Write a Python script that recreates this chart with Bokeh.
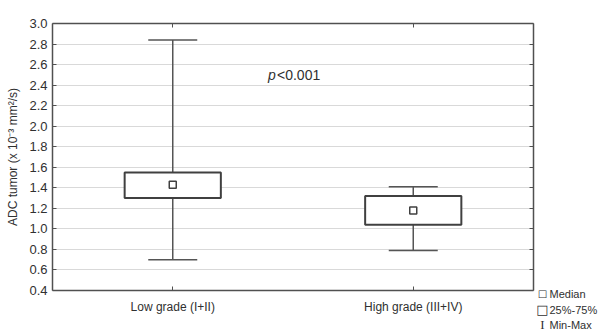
from bokeh.plotting import figure
from bokeh.layouts import row, column
from bokeh.models import (ColumnDataSource, FixedTicker, PrintfTickFormatter, LinearAxis,
                          CategoricalAxis, Whisker, TeeHead, Label, Range1d, Plot, Spacer)
from bokeh.embed import file_html
from bokeh.resources import INLINE

categories = ["Low grade (I+II)", "High grade (III+IV)"]
medians = [1.43, 1.18]
q1 = [1.30, 1.04]
q3 = [1.55, 1.32]
mins = [0.70, 0.79]
maxs = [2.84, 1.41]
y_ticks = [0.4, 0.6, 0.8, 1.0, 1.2, 1.4, 1.6, 1.8, 2.0, 2.2, 2.4, 2.6, 2.8, 3.0]
p_text = ["p", "<0.001"]
legend_labels = ["Median", "25%-75%", "Min-Max"]

FONT = "Liberation Sans"
AX = "#505050"
TXT = "#303030"
MAIN_W = 536
LEG_W = 609 - MAIN_W
LEG_TOP = 285

src = ColumnDataSource(dict(cat=categories, med=medians, q1=q1, q3=q3, lo=mins, hi=maxs))

p = figure(x_range=categories, y_range=Range1d(0.4, 3.0),
           frame_width=481, frame_height=267,
           min_border_left=52, min_border_right=MAIN_W - 52 - 481, min_border_top=23,
           min_border_bottom=41,
           output_backend="svg", toolbar_location=None,
           background_fill_color="white", border_fill_color="white")
p.outline_line_color = None

# grid
p.xgrid.grid_line_color = None
p.ygrid.ticker = FixedTicker(ticks=y_ticks)
p.ygrid.grid_line_color = "#d9d9d9"
p.ygrid.grid_line_width = 1

# left axis
ya = p.yaxis[0]
ya.ticker = FixedTicker(ticks=y_ticks)
ya.formatter = PrintfTickFormatter(format="%.1f")
ya.minor_tick_line_color = None
ya.major_tick_in = 4
ya.major_tick_out = 0
ya.axis_line_color = AX
ya.axis_line_width = 1.5
ya.major_tick_line_color = AX
ya.major_label_text_font = FONT
ya.major_label_text_font_size = "13px"
ya.major_label_text_color = TXT
ya.major_label_standoff = 5
ya.axis_label = "ADC tumor (x 10\u207b\u00b3 mm\u00b2/s)"
ya.axis_label_text_font = FONT
ya.axis_label_text_font_size = "12px"
ya.axis_label_text_font_style = "normal"
ya.axis_label_text_color = TXT
ya.axis_label_standoff = 6

# bottom axis
xa = p.xaxis[0]
xa.major_tick_in = 4
xa.major_tick_out = 0
xa.axis_line_color = AX
xa.axis_line_width = 1.5
xa.major_tick_line_color = AX
xa.major_label_text_font = FONT
xa.major_label_text_font_size = "12px"
xa.major_label_text_color = TXT
xa.major_label_standoff = 9

# mirrored axes
ra = LinearAxis(ticker=FixedTicker(ticks=y_ticks), major_tick_in=4, major_tick_out=0,
                minor_tick_line_color=None, axis_line_color=AX, axis_line_width=1.5,
                major_tick_line_color=AX, major_label_text_font_size="0px",
                major_label_text_alpha=0, major_label_standoff=0)
p.add_layout(ra, "right")
ta = CategoricalAxis(major_tick_in=4, major_tick_out=0, axis_line_color=AX, axis_line_width=1.5,
                     major_tick_line_color=AX, major_label_text_font_size="0px",
                     major_label_text_alpha=0, major_label_standoff=0)
p.add_layout(ta, "above")

# whiskers
w = Whisker(source=src, base="cat", lower="lo", upper="hi", dimension="height",
            line_color="#555555", line_width=1.5, level="underlay",
            upper_head=TeeHead(size=49, line_color="#555555", line_width=1.5),
            lower_head=TeeHead(size=49, line_color="#555555", line_width=1.5))
p.add_layout(w)

# boxes
p.vbar(x="cat", top="q3", bottom="q1", width=0.4, source=src,
       fill_color="white", line_color="#404040", line_width=2)

# medians
p.scatter(x="cat", y="med", source=src, marker="square", size=7,
          fill_color="white", line_color="#404040", line_width=1.5)

# p value
p.add_layout(Label(x=1.0, y=2.5, text=p_text[0], x_offset=-25, text_baseline="middle",
                   text_font=FONT, text_font_size="14px", text_font_style="italic", text_color=TXT))
p.add_layout(Label(x=1.0, y=2.5, text=p_text[1], x_offset=-16, text_baseline="middle",
                   text_font=FONT, text_font_size="14px", text_color=TXT))

# legend panel (bottom right)
lg = Plot(title=None, x_range=Range1d(MAIN_W, 609), y_range=Range1d(331, LEG_TOP),
          frame_width=LEG_W, frame_height=331 - LEG_TOP, min_border=0,
          output_backend="svg", toolbar_location=None,
          background_fill_color="white", border_fill_color="white")
lg.outline_line_color = None

symbols = ["\u25a1", "\u25a1", "I"]
sym_sizes = ["10px", "13px", "13px"]
sym_fonts = ["DejaVu Sans", "DejaVu Sans", "Liberation Serif"]
leg_y = [293, 309, 324]
for i, lab in enumerate(legend_labels):
    lg.add_layout(Label(x=542, y=leg_y[i], text=symbols[i],
                        text_align="center", text_baseline="middle", text_font=sym_fonts[i],
                        text_font_size=sym_sizes[i], text_color=TXT))
    lg.add_layout(Label(x=549, y=leg_y[i], text=lab,
                        text_baseline="middle", text_font=FONT, text_font_size="11px",
                        text_color=TXT))

side = column(Spacer(width=LEG_W, height=LEG_TOP), lg, spacing=0)
layout = row(p, side, spacing=0)
open("out.html", "w").write(file_html(layout, INLINE))
